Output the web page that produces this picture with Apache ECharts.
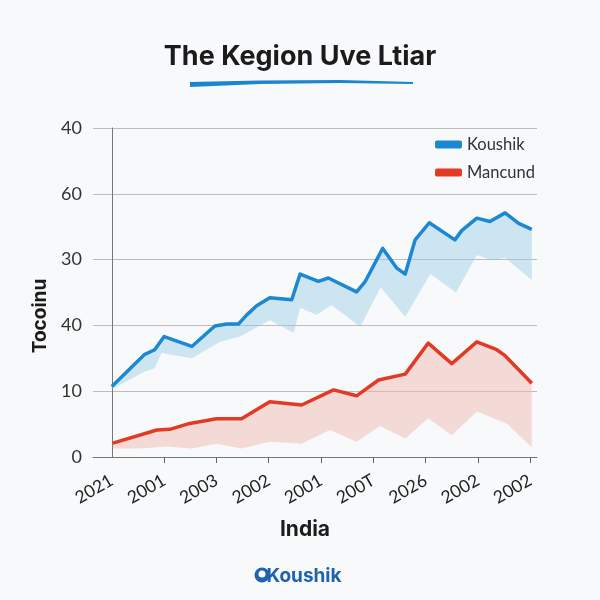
<!DOCTYPE html>
<html>
<head>
<meta charset="utf-8">
<script src="https://cdn.jsdelivr.net/npm/echarts@6/dist/echarts.min.js"></script>
<style>
html,body{margin:0;padding:0;background:#f7f9fa;}
#chart{width:600px;height:600px;}
</style>
</head>
<body>
<div id="chart"></div>
<script>
// ---- data ----
const xLabels = ['2021','2001','2003','2002','2001','200T','2026','2002','2002'];
const yLabels = ['0','10','40','30','60','40'];
const seriesNames = ['Koushik','Mancund'];

const blueX = [0,0.63,0.82,1.0,1.53,1.97,2.2,2.42,2.58,2.77,3.02,3.44,3.6,3.95,4.14,4.68,4.84,5.18,5.45,5.61,5.8,6.07,6.56,6.69,6.98,7.23,7.52,7.78,8.03];
const blueY = [10.7,15.6,16.3,18.3,16.8,19.9,20.2,20.2,21.6,23,24.2,23.9,27.8,26.7,27.2,25.1,26.6,31.7,28.7,27.8,33,35.6,33,34.4,36.3,35.8,37.1,35.5,34.6];

const blueLowX = [0,0.63,0.82,0.95,1.53,2.07,2.45,3.02,3.48,3.6,3.92,4.2,4.75,5.14,5.61,6.09,6.58,6.98,7.27,7.52,8.03];
const blueLowY = [10.3,13,13.5,15.8,15,17.5,18.3,20.8,18.9,22.7,21.6,23.1,19.8,25.8,21.3,27.8,25,30.7,29.9,30.3,26.9];

const redX = [0.02,0.86,1.11,1.49,2.0,2.48,3.02,3.63,4.24,4.68,5.1,5.61,6.05,6.5,6.98,7.36,7.52,8.03];
const redY = [2.1,4.1,4.2,5.1,5.8,5.8,8.4,7.9,10.2,9.3,11.7,12.6,17.3,14.2,17.5,16.3,15.4,11.2];

const redLowX = [0.02,0.54,1.05,1.53,2.0,2.48,3.02,3.63,4.17,4.68,5.13,5.61,6.05,6.5,6.98,7.55,8.03];
const redLowY = [1.3,1.3,1.6,1.3,2,1.3,2.3,2,4.1,2.3,4.7,2.8,5.9,3.3,6.9,5.1,1.5];

// ---- build ----
function pairs(xs, ys){ return xs.map((x,i)=>[x, ys[i]]); }

function bandSeries(upX, upY, lowX, lowY, fill){
  return {
    type: 'custom',
    coordinateSystem: 'cartesian2d',
    silent: true,
    z: 1,
    data: [[0,0]],
    renderItem: function(params, api){
      const pts = [];
      for (let i=0;i<upX.length;i++) pts.push(api.coord([upX[i], upY[i]]));
      for (let i=lowX.length-1;i>=0;i--) pts.push(api.coord([lowX[i], lowY[i]]));
      return {type:'polygon', shape:{points:pts}, style:{fill: fill}};
    }
  };
}

const chart = echarts.init(document.getElementById('chart'));
const option = {
  backgroundColor: '#f7f9fa',
  animation: false,
  grid: {left: 93, right: 63, top: 128, bottom: 143, containLabel: false},
  legend: {
    data: seriesNames,
    orient: 'vertical',
    left: 430, top: 131,
    itemWidth: 27, itemHeight: 8, itemGap: 11,
    icon: 'roundRect',
    textStyle: {fontSize: 16.5, color: '#333', fontFamily: 'Lato, "Open Sans", sans-serif'}
  },
  xAxis: {
    type: 'value',
    min: -0.36, max: 8.13,
    splitLine: {show: false},
    axisLine: {show: true, lineStyle: {color: '#777', width: 1}},
    axisTick: {show: true, length: 6, lineStyle: {color: '#666'}, customValues: [1,2,3,4,5,6,7,8]},
    axisLabel: {
      customValues: [0,1,2,3,4,5,6,7,8],
      rotate: 30, margin: 22,
      fontSize: 17.5, color: '#222', fontFamily: 'Lato, "Open Sans", sans-serif',
      formatter: function(v){ return xLabels[Math.round(v)]; }
    }
  },
  yAxis: {
    type: 'value',
    min: 0, max: 50, interval: 10,
    axisLine: {show: true, lineStyle: {color: '#777', width: 1}},
    axisTick: {show: false},
    splitLine: {show: true, lineStyle: {color: '#bdbdbd', width: 1}},
    axisLabel: {
      margin: 11, fontSize: 18, color: '#333', fontFamily: 'Lato, "Open Sans", sans-serif',
      formatter: function(v){ return yLabels[Math.round(v/10)]; }
    }
  },
  graphic: [
    {type:'text', left:'center', top: 43, style:{text:'The Kegion Uve Ltiar', font:'bold 27px Inter, "Open Sans", sans-serif', fill:'#1b1b1b'}},
    {type:'polygon', shape:{points:[[190,82],[260,80.5],[340,80],[413,82],[413,84],[340,83],[260,84],[190,87]]}, style:{fill:'#1a86d0'}},
    {type:'text', x: 40, y: 316, rotation: Math.PI/2, style:{text:'Tocoinu', font:'bold 19px Inter, "Open Sans", sans-serif', fill:'#1b1b1b', align:'center', verticalAlign:'middle'}},
    {type:'text', x: 305, y: 530, style:{text:'India', font:'bold 21px Inter, "Open Sans", sans-serif', fill:'#1b1b1b', align:'center', verticalAlign:'middle'}},
    {type:'circle', shape:{cx:262, cy:575, r:7.5}, style:{fill:'#1f63b0'}},
    {type:'circle', shape:{cx:262, cy:574, r:3.5}, style:{fill:'#ffffff'}},
    {type:'text', x: 304, y: 576, style:{text:'Koushik', font:'bold 19px Inter, "Open Sans", sans-serif', fill:'#1f63b0', align:'center', verticalAlign:'middle'}}
  ],
  series: [
    bandSeries(blueX, blueY, blueLowX, blueLowY, 'rgba(150,205,230,0.45)'),
    bandSeries(redX, redY, redLowX, redLowY, 'rgba(240,180,170,0.45)'),
    {
      name: 'Koushik', type: 'line', z: 3,
      data: pairs(blueX, blueY),
      showSymbol: false, symbol: 'none',
      lineStyle: {color: '#1a88d2', width: 3.5, join: 'round'},
      itemStyle: {color: '#1a88d2'}
    },
    {
      name: 'Mancund', type: 'line', z: 3,
      data: pairs(redX, redY),
      showSymbol: false, symbol: 'none',
      lineStyle: {color: '#e33a26', width: 3.5, join: 'round'},
      itemStyle: {color: '#e33a26'}
    }
  ]
};
chart.setOption(option);
</script>
</body>
</html>
